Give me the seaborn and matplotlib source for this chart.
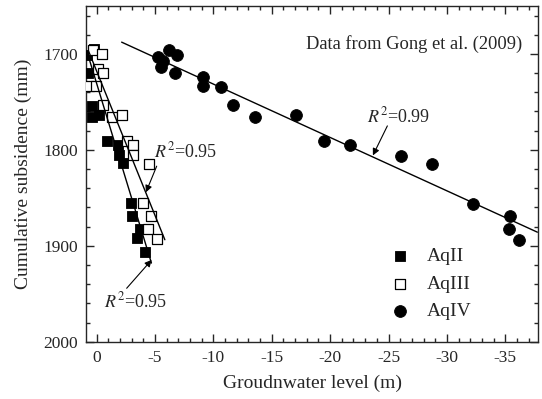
import numpy as np
import pandas as pd
import seaborn as sns
import matplotlib.pyplot as plt
from matplotlib.ticker import MultipleLocator

# Groundwater level (m) vs cumulative subsidence (mm)
aq2_level = [0.21, 0.85, 0.73, 0.38, 0.38, -0.24, -0.90, -1.81, -1.92, -2.29,
             -2.97, -3.01, -3.72, -3.50, -4.19]
aq2_subs = [1695, 1701, 1720, 1754, 1766, 1764, 1791, 1795, 1805, 1814,
            1855, 1869, 1882, 1892, 1906]

aq3_level = [0.26, -0.51, -0.09, -0.56, 0.68, 0.04, -0.53, -1.30, -2.15, -2.58,
             -3.08, -3.08, -4.53, -4.00, -4.64, -4.43, -5.15]
aq3_subs = [1696, 1700, 1716, 1720, 1733, 1733, 1753, 1766, 1764, 1791,
            1795, 1805, 1815, 1855, 1869, 1882, 1893]

aq4_level = [-6.22, -6.85, -5.30, -5.68, -5.49, -6.71, -9.13, -9.08, -10.62, -11.69,
             -17.11, -13.55, -19.47, -21.73, -26.03, -28.70, -32.26, -35.40, -35.28, -36.20]
aq4_subs = [1696, 1701, 1703, 1707, 1714, 1720, 1724, 1733, 1734, 1753,
            1764, 1766, 1791, 1795, 1806, 1815, 1856, 1869, 1882, 1894]

# fitted lines (end points)
fit2_x, fit2_y = [0.81, -4.70], [1698, 1918]
fit3_x, fit3_y = [0.70, -5.85], [1696.5, 1893.7]
fit4_x, fit4_y = [-2.15, -37.74], [1687.7, 1885.8]

sns.set_style('ticks')
plt.rcParams['font.family'] = ['Liberation Serif', 'DejaVu Serif']
plt.rcParams['mathtext.fontset'] = 'stix'
plt.rcParams['axes.unicode_minus'] = False

fig = plt.figure(figsize=(5.42, 3.99), dpi=100)
ax = fig.add_axes([0.1587, 0.1436, 0.834, 0.8414])

sns.scatterplot(x=aq2_level, y=aq2_subs, marker='s', s=55, color='black',
                edgecolor='black', linewidth=0.6, label='AqII', ax=ax, zorder=3)
sns.scatterplot(x=aq3_level, y=aq3_subs, marker='s', s=55, color='white',
                edgecolor='black', linewidth=0.9, label='AqIII', ax=ax, zorder=3)
sns.scatterplot(x=aq4_level, y=aq4_subs, marker='o', s=72, color='black',
                edgecolor='black', linewidth=0.6, label='AqIV', ax=ax, zorder=3)

for fx, fy in [(fit2_x, fit2_y), (fit3_x, fit3_y), (fit4_x, fit4_y)]:
    sns.lineplot(x=fx, y=fy, color='black', lw=1.0, sort=False, ax=ax, zorder=4)

ax.set_xlim(0.9, -37.8)
ax.set_ylim(2000, 1650)
ax.xaxis.set_major_locator(MultipleLocator(5))
ax.xaxis.set_minor_locator(MultipleLocator(1))
ax.yaxis.set_major_locator(MultipleLocator(100))
ax.yaxis.set_minor_locator(MultipleLocator(20))
ax.tick_params(which='both', direction='in', top=True, right=True, width=1.0,
               labelsize=12.5, pad=6)
ax.tick_params(which='major', length=5.5)
ax.tick_params(which='minor', length=3)
for sp in ax.spines.values():
    sp.set_linewidth(1.0)

ax.set_xlabel('Groudnwater level (m)', fontsize=14, labelpad=6)
ax.set_ylabel('Cumulative subsidence (mm)', fontsize=14, labelpad=8)

ax.text(0.966, 0.887, 'Data from Gong et al. (2009)', transform=ax.transAxes,
        ha='right', va='center', fontsize=13.3)

arrow = dict(arrowstyle='-|>', color='black', lw=0.8, mutation_scale=10,
             shrinkA=0, shrinkB=0)
ax.annotate('', xy=(-23.66, 1805.8), xytext=(-24.9, 1775), arrowprops=arrow)
ax.text(-25.9, 1765, r'$R^2$=0.99', ha='center', va='center', fontsize=13)
ax.annotate('', xy=(-4.23, 1844.2), xytext=(-5.15, 1817), arrowprops=arrow)
ax.text(-7.65, 1801.3, r'$R^2$=0.95', ha='center', va='center', fontsize=13)
ax.annotate('', xy=(-4.72, 1914.7), xytext=(-2.58, 1944.3), arrowprops=arrow)
ax.text(-3.38, 1958.3, r'$R^2$=0.95', ha='center', va='center', fontsize=13)

ax.legend(loc='upper left', bbox_to_anchor=(0.656, 0.303), borderaxespad=0,
          frameon=False, fontsize=14, handlelength=1.0, handletextpad=0.9,
          labelspacing=0.5)

fig.savefig('out.png', dpi=100)
